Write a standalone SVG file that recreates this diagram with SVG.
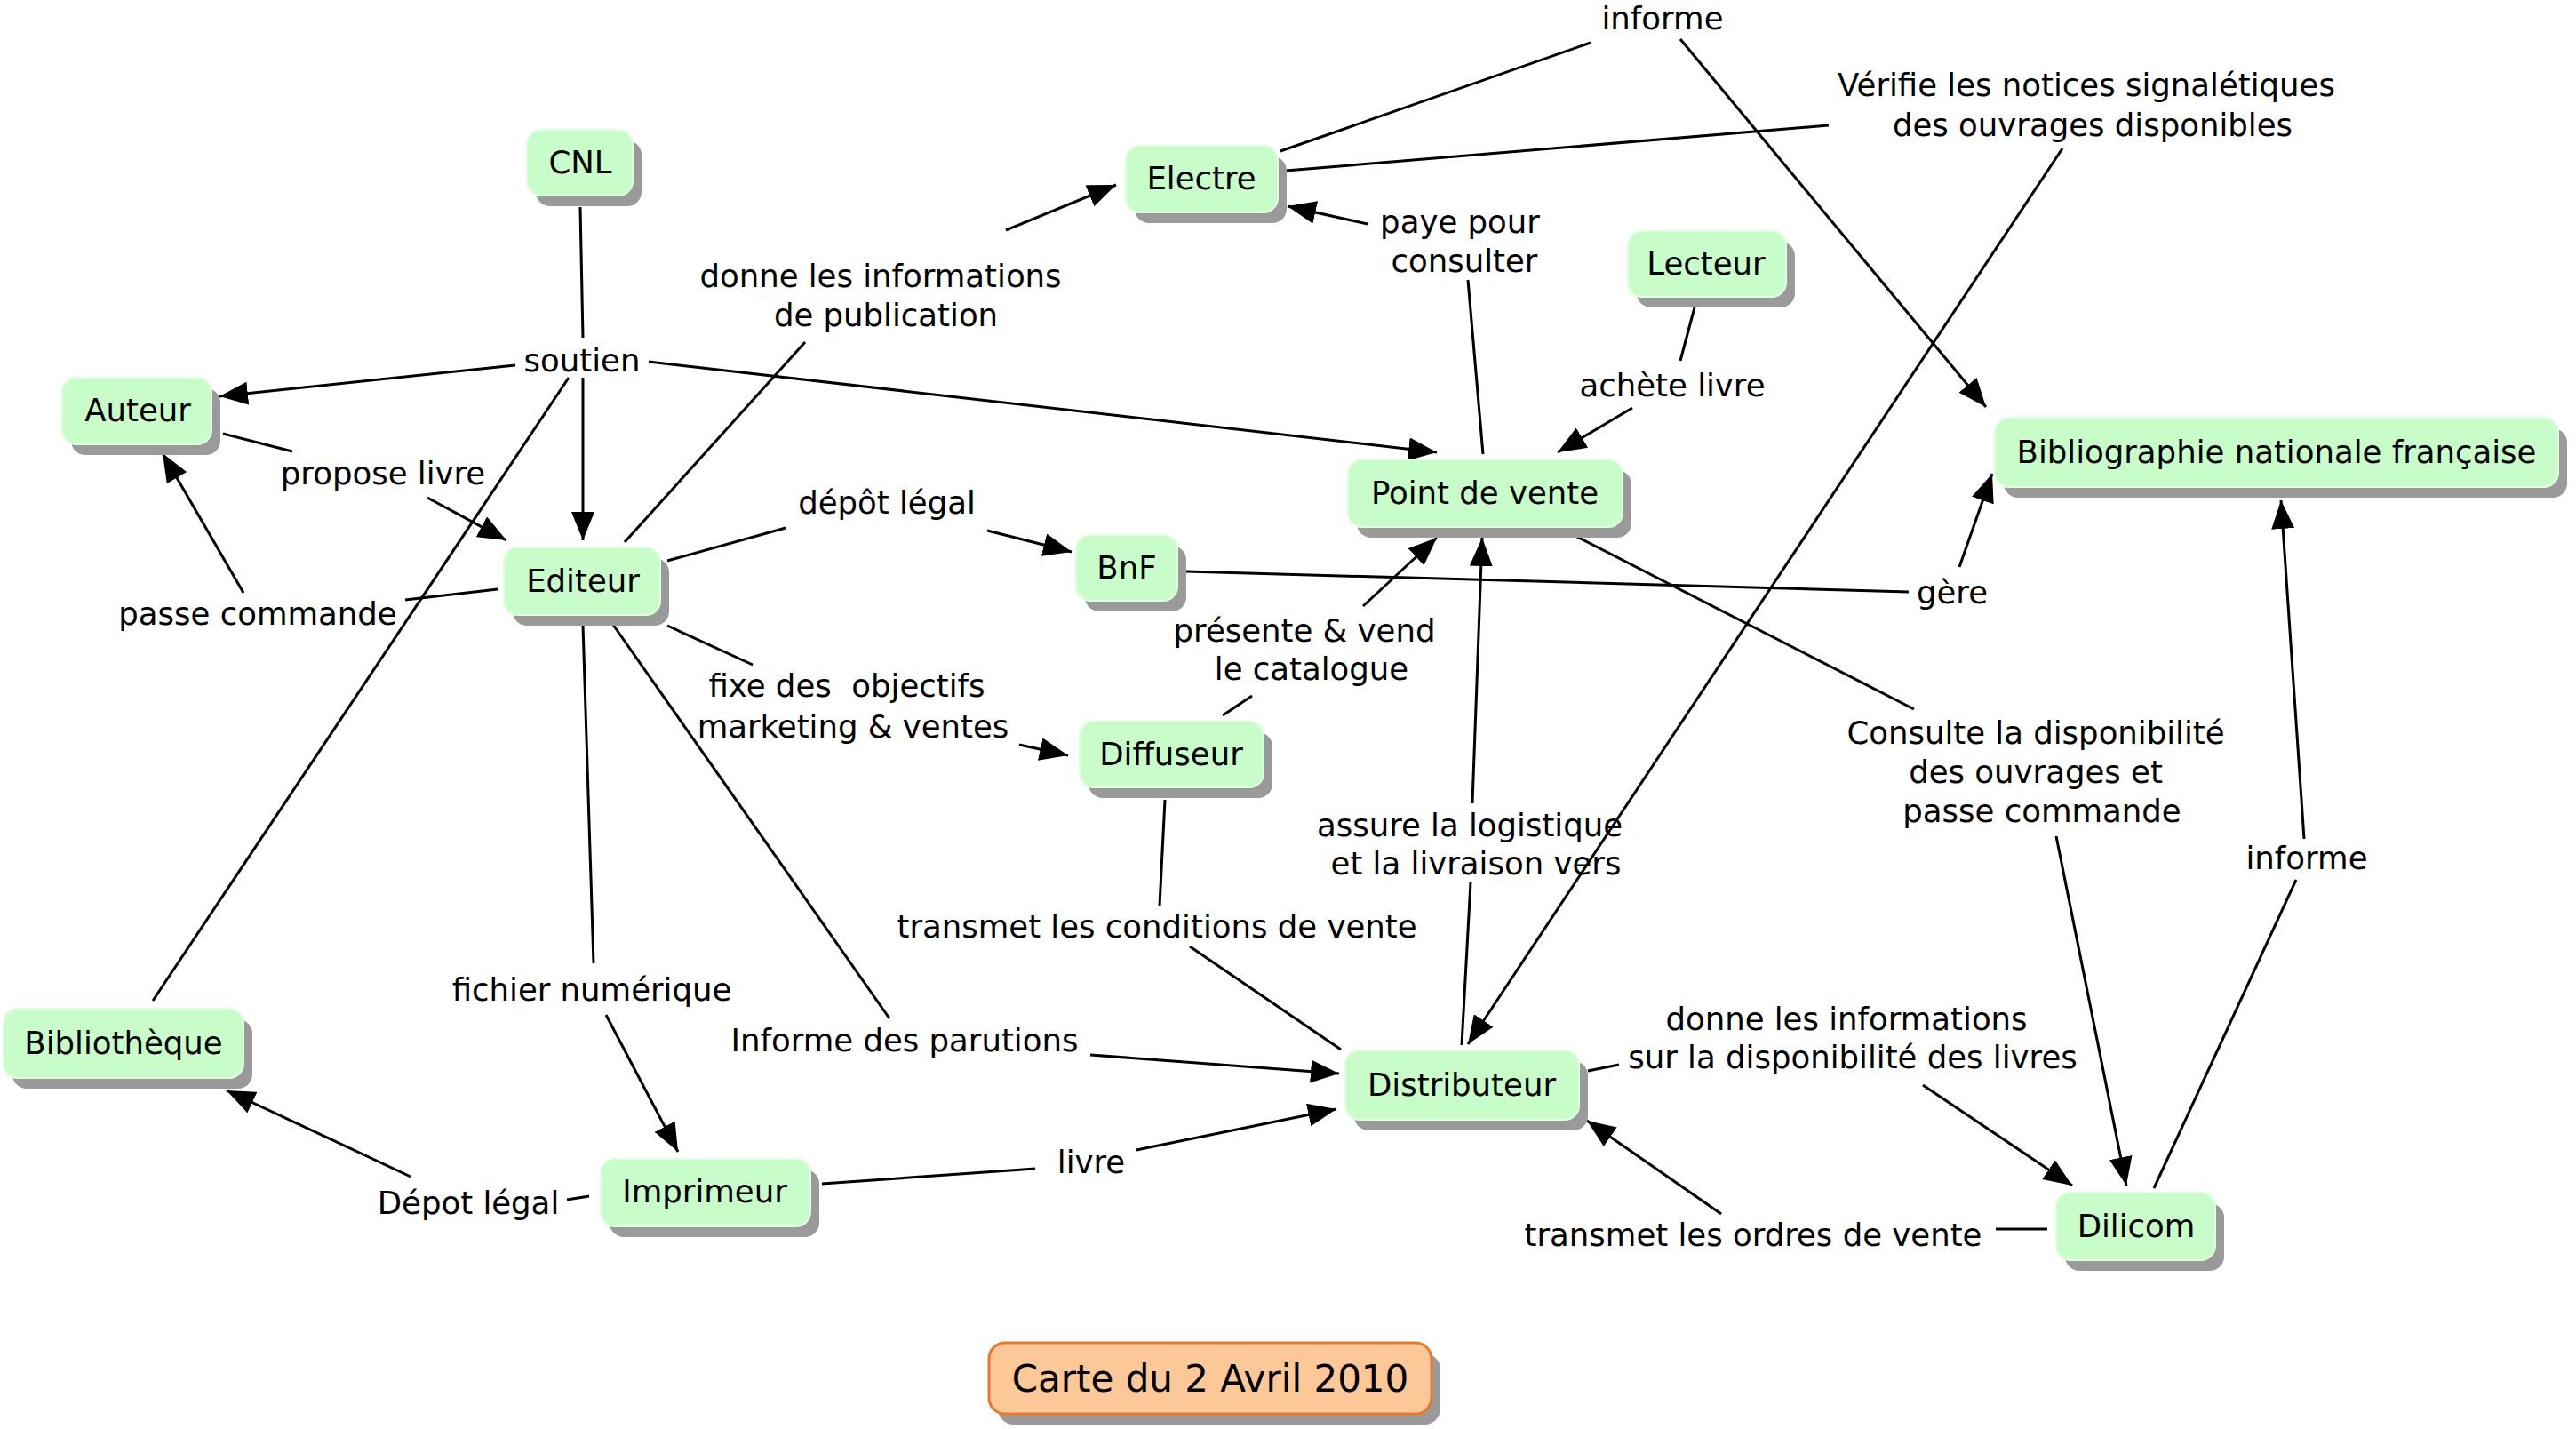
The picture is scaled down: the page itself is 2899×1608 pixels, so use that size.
<svg xmlns="http://www.w3.org/2000/svg" width="2899" height="1608" viewBox="0 0 2899 1608">
<defs>
<style>
.sh{fill:#9a9a9a}
.nd{fill:#c8fcc8;stroke:#dfffdf;stroke-width:2}
.ti{fill:#fcc898;stroke:#e9782a;stroke-width:3}
.t{font-family:"DejaVu Sans","Verdana",sans-serif;font-size:35.5px;fill:#000;text-anchor:middle}
.tt{font-family:"DejaVu Sans","Verdana",sans-serif;font-size:42px;fill:#000;text-anchor:middle}
.c line{stroke:#000;stroke-width:3;fill:none}
.c line.a{marker-end:url(#ar)}
</style>
<marker id="ar" viewBox="0 0 32 26" refX="32" refY="13" markerWidth="32" markerHeight="26" markerUnits="userSpaceOnUse" orient="auto">
<path d="M0,0 L32,13 L0,26 z" fill="#000"/>
</marker>
</defs>
<rect width="2899" height="1608" fill="#fff"/>

<g id="connectors" class="c">
<line x1="653" y1="233" x2="656" y2="380"/>
<line class="a" x1="580" y1="411" x2="247" y2="446"/>
<line class="a" x1="656" y1="425" x2="656" y2="608"/>
<line class="a" x1="730" y1="407" x2="1617" y2="509"/>
<line x1="640" y1="425" x2="172" y2="1126"/>
<line x1="251" y1="488" x2="329" y2="508"/>
<line class="a" x1="481" y1="560" x2="570" y2="608"/>
<line x1="560" y1="663" x2="456" y2="675"/>
<line class="a" x1="274" y1="667" x2="183" y2="510"/>
<line x1="703" y1="610" x2="906" y2="385"/>
<line class="a" x1="1132" y1="259" x2="1256" y2="208"/>
<line x1="751" y1="631" x2="884" y2="594"/>
<line class="a" x1="1111" y1="597" x2="1206" y2="621"/>
<line x1="751" y1="704" x2="847" y2="748"/>
<line class="a" x1="1147" y1="838" x2="1202" y2="850"/>
<line x1="656" y1="703" x2="668" y2="1084"/>
<line class="a" x1="682" y1="1142" x2="763" y2="1296"/>
<line x1="690" y1="703" x2="1001" y2="1146"/>
<line class="a" x1="1227" y1="1187" x2="1507" y2="1208"/>
<line x1="663" y1="1346" x2="638" y2="1350"/>
<line class="a" x1="462" y1="1324" x2="255" y2="1227"/>
<line x1="925" y1="1332" x2="1165" y2="1315"/>
<line class="a" x1="1279" y1="1294" x2="1504" y2="1248"/>
<line x1="1311" y1="900" x2="1305" y2="1019"/>
<line x1="1339" y1="1065" x2="1509" y2="1181"/>
<line x1="1376" y1="805" x2="1409" y2="783"/>
<line class="a" x1="1534" y1="682" x2="1617" y2="605"/>
<line x1="1645" y1="1176" x2="1655" y2="993"/>
<line class="a" x1="1657" y1="904" x2="1668" y2="605"/>
<line x1="1669" y1="511" x2="1652" y2="315"/>
<line class="a" x1="1539" y1="252" x2="1449" y2="232"/>
<line x1="1907" y1="346" x2="1891" y2="406"/>
<line class="a" x1="1837" y1="459" x2="1753" y2="509"/>
<line x1="1769" y1="601" x2="2154" y2="798"/>
<line class="a" x1="2314" y1="941" x2="2393" y2="1334"/>
<line x1="1441" y1="170" x2="1790" y2="48"/>
<line class="a" x1="1891" y1="44" x2="2235" y2="458"/>
<line x1="1447" y1="192" x2="2058" y2="141"/>
<line class="a" x1="2321" y1="167" x2="1652" y2="1175"/>
<line x1="1335" y1="643" x2="2148" y2="666"/>
<line class="a" x1="2205" y1="638" x2="2242" y2="533"/>
<line x1="2424" y1="1337" x2="2584" y2="990"/>
<line class="a" x1="2593" y1="944" x2="2567" y2="563"/>
<line x1="1787" y1="1205" x2="1822" y2="1198"/>
<line class="a" x1="2164" y1="1221" x2="2332" y2="1334"/>
<line x1="2304" y1="1383" x2="2246" y2="1383"/>
<line class="a" x1="1937" y1="1366" x2="1786" y2="1261"/>
</g>

<g id="labels">
<text class="t" x="1871" y="33">informe</text>
<text class="t" x="2348" y="108">Vérifie les notices signalétiques</text>
<text class="t" x="2355" y="153">des ouvrages disponibles</text>
<text class="t" x="1643" y="262">paye pour</text>
<text class="t" x="1648" y="306">consulter</text>
<text class="t" x="991" y="323">donne les informations</text>
<text class="t" x="997" y="367">de publication</text>
<text class="t" x="655" y="418">soutien</text>
<text class="t" x="1882" y="446">achète livre</text>
<text class="t" x="431" y="545">propose livre</text>
<text class="t" x="998" y="578">dépôt légal</text>
<text class="t" x="290" y="703">passe commande</text>
<text class="t" x="2197" y="679">gère</text>
<text class="t" x="1468" y="722">présente &amp; vend</text>
<text class="t" x="1476" y="765">le catalogue</text>
<text class="t" x="953" y="784" xml:space="preserve">fixe des  objectifs</text>
<text class="t" x="960" y="830">marketing &amp; ventes</text>
<text class="t" x="2291" y="837">Consulte la disponibilité</text>
<text class="t" x="2291" y="881">des ouvrages et</text>
<text class="t" x="2298" y="925">passe commande</text>
<text class="t" x="1654" y="941">assure la logistique</text>
<text class="t" x="1661" y="984">et la livraison vers</text>
<text class="t" x="2596" y="978">informe</text>
<text class="t" x="1302" y="1055">transmet les conditions de vente</text>
<text class="t" x="666" y="1126">fichier numérique</text>
<text class="t" x="1018" y="1183">Informe des parutions</text>
<text class="t" x="2078" y="1159">donne les informations</text>
<text class="t" x="2085" y="1202">sur la disponibilité des livres</text>
<text class="t" x="1228" y="1320">livre</text>
<text class="t" x="527" y="1366">Dépot légal</text>
<text class="t" x="1973" y="1402">transmet les ordres de vente</text>
</g>

<g id="n-cnl"><rect class="sh" x="603" y="158" width="119" height="74" rx="16"/><rect class="nd" x="593" y="146" width="119" height="74" rx="16"/><text class="t" x="653" y="195">CNL</text></g>
<g id="n-electre"><rect class="sh" x="1277" y="176" width="171" height="75" rx="16"/><rect class="nd" x="1267" y="164" width="171" height="75" rx="16"/><text class="t" x="1352" y="213">Electre</text></g>
<g id="n-lecteur"><rect class="sh" x="1842" y="272" width="178" height="74" rx="16"/><rect class="nd" x="1832" y="260" width="178" height="74" rx="16"/><text class="t" x="1920" y="309">Lecteur</text></g>
<g id="n-auteur"><rect class="sh" x="80" y="437" width="168" height="75" rx="16"/><rect class="nd" x="70" y="425" width="168" height="75" rx="16"/><text class="t" x="155" y="474">Auteur</text></g>
<g id="n-editeur"><rect class="sh" x="577" y="628" width="176" height="76" rx="16"/><rect class="nd" x="567" y="616" width="176" height="76" rx="16"/><text class="t" x="656" y="666">Editeur</text></g>
<g id="n-pdv"><rect class="sh" x="1527" y="529" width="309" height="76" rx="16"/><rect class="nd" x="1517" y="517" width="309" height="76" rx="16"/><text class="t" x="1671" y="567">Point de vente</text></g>
<g id="n-bnf"><rect class="sh" x="1221" y="614" width="114" height="74" rx="16"/><rect class="nd" x="1211" y="602" width="114" height="74" rx="16"/><text class="t" x="1268" y="651">BnF</text></g>
<g id="n-bnfr"><rect class="sh" x="2255" y="482" width="634" height="78" rx="16"/><rect class="nd" x="2245" y="470" width="634" height="78" rx="16"/><text class="t" x="2562" y="521">Bibliographie nationale française</text></g>
<g id="n-diffuseur"><rect class="sh" x="1225" y="824" width="207" height="74" rx="16"/><rect class="nd" x="1215" y="812" width="207" height="74" rx="16"/><text class="t" x="1318" y="861">Diffuseur</text></g>
<g id="n-bibliotheque"><rect class="sh" x="14" y="1147" width="270" height="78" rx="16"/><rect class="nd" x="4" y="1135" width="270" height="78" rx="16"/><text class="t" x="139" y="1186">Bibliothèque</text></g>
<g id="n-imprimeur"><rect class="sh" x="686" y="1316" width="236" height="76" rx="16"/><rect class="nd" x="676" y="1304" width="236" height="76" rx="16"/><text class="t" x="793" y="1353">Imprimeur</text></g>
<g id="n-distributeur"><rect class="sh" x="1524" y="1194" width="263" height="78" rx="16"/><rect class="nd" x="1514" y="1182" width="263" height="78" rx="16"/><text class="t" x="1645" y="1233">Distributeur</text></g>
<g id="n-dilicom"><rect class="sh" x="2324" y="1354" width="179" height="76" rx="16"/><rect class="nd" x="2314" y="1342" width="179" height="76" rx="16"/><text class="t" x="2404" y="1392">Dilicom</text></g>
<g id="n-carte"><rect class="sh" x="1123" y="1523" width="498" height="80" rx="18"/><rect class="ti" x="1113" y="1511" width="498" height="80" rx="18"/><text class="tt" x="1362" y="1566">Carte du 2 Avril 2010</text></g>
</svg>
